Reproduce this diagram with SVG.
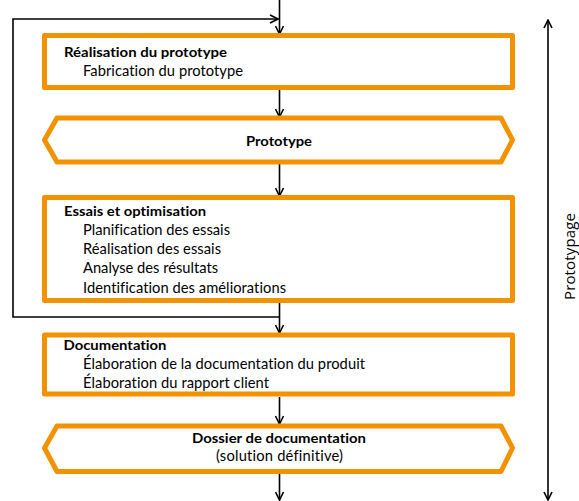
<svg xmlns="http://www.w3.org/2000/svg" width="579" height="501" viewBox="0 0 579 501">
<style>
.box{fill:#fff;stroke:#F39200;stroke-width:5;stroke-linejoin:round}
.t{font-family:Lato,"Open Sans",sans-serif;font-size:14.7px;fill:#000;font-variant-ligatures:none}
.b{font-weight:bold;font-size:14px}
.ln{fill:none;stroke:#000;stroke-width:1.6}
</style>
<defs>
<marker id="ah" viewBox="0 0 10 10" refX="9" refY="5" markerWidth="10" markerHeight="10" markerUnits="userSpaceOnUse" orient="auto-start-reverse">
<polyline points="1,1 9,5 1,9" fill="none" stroke="#000" stroke-width="1.6"/>
</marker>
</defs>
<rect width="579" height="501" fill="#fff"/>
<g id="connectors">
<line class="ln" x1="279.5" y1="0" x2="279.5" y2="34" marker-end="url(#ah)"/>
<polyline class="ln" points="279.5,300 279.5,333" marker-end="url(#ah)"/>
<polyline class="ln" points="279.5,317 13,317 13,19 278,19" marker-end="url(#ah)"/>
<line class="ln" x1="279.5" y1="90" x2="279.5" y2="117" marker-end="url(#ah)"/>
<line class="ln" x1="279.5" y1="164" x2="279.5" y2="196" marker-end="url(#ah)"/>
<line class="ln" x1="279.5" y1="397" x2="279.5" y2="424" marker-end="url(#ah)"/>
<line class="ln" x1="279.5" y1="474" x2="279.5" y2="500" marker-end="url(#ah)"/>
<line class="ln" x1="548" y1="20" x2="548" y2="500" marker-start="url(#ah)" marker-end="url(#ah)"/>
</g>
<g id="realisation">
<rect class="box" x="44.5" y="35.5" width="468" height="52"/>
<text class="t b" x="64" y="57" textLength="163" lengthAdjust="spacingAndGlyphs">Réalisation du prototype</text>
<text class="t" x="83" y="76" textLength="160">Fabrication du prototype</text>
</g>
<g id="prototype">
<polygon class="box" points="44.5,140 57,118 501,118 512.5,140 501,162 57,162"/>
<text class="t b" x="246" y="146" textLength="66" lengthAdjust="spacingAndGlyphs">Prototype</text>
</g>
<g id="essais">
<rect class="box" x="44.5" y="197.5" width="468" height="103"/>
<text class="t b" x="64" y="216" textLength="142" lengthAdjust="spacingAndGlyphs">Essais et optimisation</text>
<text class="t" x="83" y="235" textLength="147">Planification des essais</text>
<text class="t" x="83" y="254" textLength="138">Réalisation des essais</text>
<text class="t" x="83" y="273" textLength="135">Analyse des résultats</text>
<text class="t" x="83" y="293" textLength="203">Identification des améliorations</text>
</g>
<g id="documentation">
<rect class="box" x="44.5" y="335" width="468" height="59"/>
<text class="t b" x="63.5" y="350" textLength="103" lengthAdjust="spacingAndGlyphs">Documentation</text>
<text class="t" x="83" y="369" textLength="282">Élaboration de la documentation du produit</text>
<text class="t" x="83" y="388" textLength="186">Élaboration du rapport client</text>
</g>
<g id="dossier">
<polygon class="box" points="44.5,448 57,426 501,426 512.5,448 501,471.5 57,471.5"/>
<text class="t b" x="192" y="443" textLength="174" lengthAdjust="spacingAndGlyphs">Dossier de documentation</text>
<text class="t" x="216" y="461" textLength="127">(solution définitive)</text>
</g>
<g id="prototypage">
<text font-family="'Open Sans',sans-serif" font-size="15" transform="translate(575,300) rotate(-90)" textLength="87">Prototypage</text>
</g>
</svg>
